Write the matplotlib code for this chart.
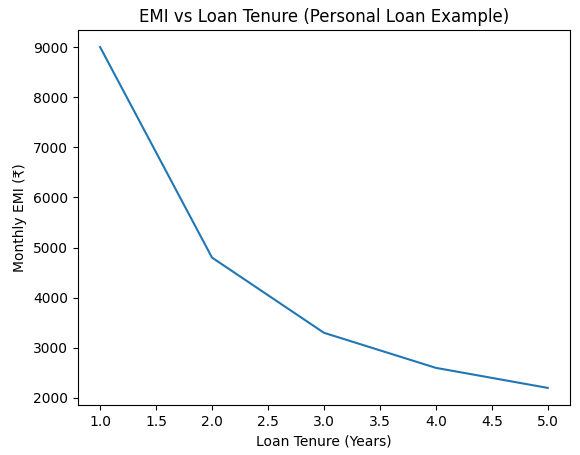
import matplotlib
import matplotlib.pyplot as plt

matplotlib.use("Agg")

tenure_years = [1, 2, 3, 4, 5]
monthly_emi = [9000, 4800, 3300, 2600, 2200]

fig, ax = plt.subplots(figsize=(5.8, 4.55), dpi=100)
ax.plot(tenure_years, monthly_emi)
ax.set_xlabel("Loan Tenure (Years)")
ax.set_ylabel("Monthly EMI (₹)")
ax.set_title("EMI vs Loan Tenure (Personal Loan Example)")
fig.subplots_adjust(left=0.134, right=0.983, top=0.934, bottom=0.11)
fig.savefig("out.png", dpi=100)
